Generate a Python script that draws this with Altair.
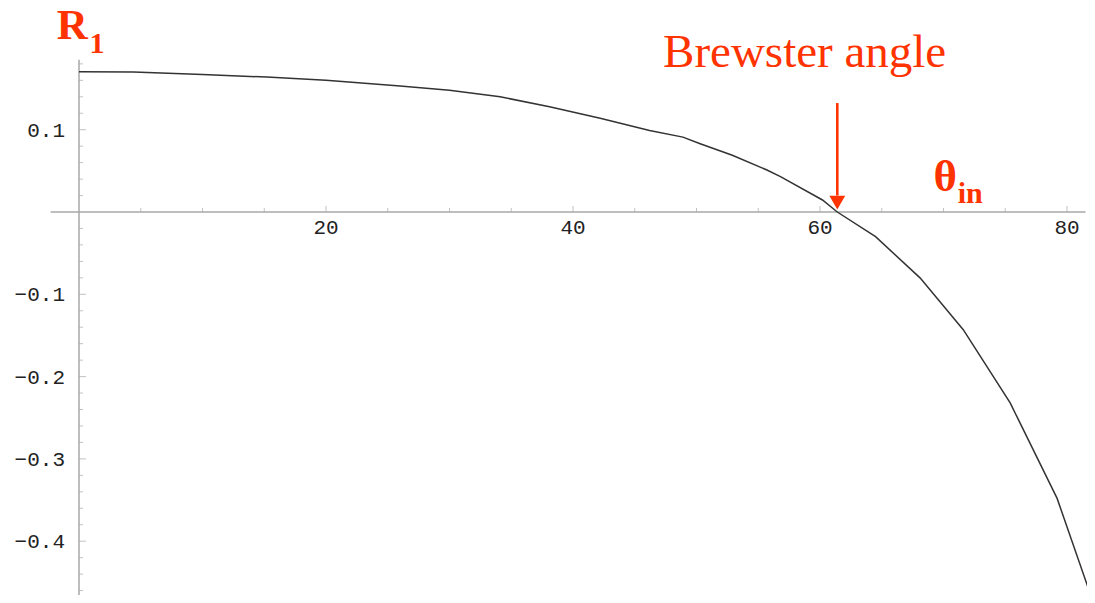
import altair as alt
import pandas as pd

# ---- data ----
theta = [0, 4.4, 10.0, 15.2, 20.0, 26.0, 30.0, 34.1, 38.1, 42.2, 46.2, 48.9, 50.3,
         52.9, 55.7, 56.8, 60.2, 61.4, 64.5, 68.1, 71.6, 75.4, 79.2, 82.0]
r1 = [0.1705, 0.170, 0.167, 0.164, 0.160, 0.153, 0.148, 0.140, 0.128, 0.114, 0.099,
      0.091, 0.083, 0.069, 0.051, 0.043, 0.0146, 0.0, -0.030, -0.080, -0.143, -0.232,
      -0.348, -0.469]

x_major = [20, 40, 60, 80]
x_major_labels = ["20", "40", "60", "80"]
x_minor = [5, 10, 15, 25, 30, 35, 45, 50, 55, 65, 70, 75]
y_major = [-0.4, -0.3, -0.2, -0.1, 0.1]
y_major_labels = ["\u22120.4", "\u22120.3", "\u22120.2", "\u22120.1", "0.1"]
y_minor = [-0.46, -0.44, -0.42, -0.38, -0.36, -0.34, -0.32, -0.28, -0.26, -0.24, -0.22,
           -0.18, -0.16, -0.14, -0.12, -0.08, -0.06, -0.04, -0.02, 0.02, 0.04, 0.06,
           0.08, 0.12, 0.14, 0.16, 0.18]

brewster = 61.4
x_axis_extent = [-2.3, 81.5]
y_axis_extent = [0.185, -0.47]

RED = "#ff3300"
AX = "#a8a8a8"

xs = alt.Scale(domain=[-5.75, 81.62], nice=False, zero=False)
ys = alt.Scale(domain=[-0.4654, 0.2479], nice=False, zero=False)


def X(f="x"):
    return alt.X(f"{f}:Q", scale=xs, axis=None)


def Y(f="y"):
    return alt.Y(f"{f}:Q", scale=ys, axis=None)


curve_df = pd.DataFrame({"x": theta, "y": r1})

# axes lines
xaxis = alt.Chart(pd.DataFrame({"x": [x_axis_extent[0]], "x2": [x_axis_extent[1]], "y": [0]})).mark_rule(
    color=AX, strokeWidth=1.5).encode(x=X(), x2="x2:Q", y=Y())
yaxis = alt.Chart(pd.DataFrame({"x": [0], "y": [y_axis_extent[0]], "y2": [y_axis_extent[1]]})).mark_rule(
    color=AX, strokeWidth=1.5).encode(x=X(), y=Y(), y2="y2:Q")

# ticks
xmaj = alt.Chart(pd.DataFrame({"x": x_major, "y": [0] * len(x_major)})).mark_tick(
    orient="vertical", size=6, yOffset=-3, color=AX, thickness=1).encode(x=X(), y=Y())
xmin = alt.Chart(pd.DataFrame({"x": x_minor, "y": [0] * len(x_minor)})).mark_tick(
    orient="vertical", size=4, yOffset=-2, color=AX, thickness=1).encode(x=X(), y=Y())
ymaj = alt.Chart(pd.DataFrame({"x": [0] * len(y_major), "y": y_major})).mark_tick(
    orient="horizontal", size=7, xOffset=3.5, color=AX, thickness=1).encode(x=X(), y=Y())
ymin = alt.Chart(pd.DataFrame({"x": [0] * len(y_minor), "y": y_minor})).mark_tick(
    orient="horizontal", size=4, xOffset=2, color=AX, thickness=1).encode(x=X(), y=Y())

# tick labels
xlab = alt.Chart(pd.DataFrame({"x": x_major, "y": [0] * len(x_major), "t": x_major_labels})).mark_text(
    font="Liberation Mono", fontSize=21, color="#222222", align="center", baseline="alphabetic", dy=22
).encode(x=X(), y=Y(), text="t:N")
ylab = alt.Chart(pd.DataFrame({"x": [0] * len(y_major), "y": y_major, "t": y_major_labels})).mark_text(
    font="Liberation Mono", fontSize=21, color="#222222", align="right", baseline="alphabetic", dx=-14, dy=7
).encode(x=X(), y=Y(), text="t:N")

# curve
curve = alt.Chart(curve_df).mark_line(color="#333333", strokeWidth=1.5, clip=False).encode(
    x=X(), y=Y(), order="x:Q")

# Brewster arrow
arrow_line = alt.Chart(pd.DataFrame({"x": [brewster], "y": [0.1324], "y2": [0.02]})).mark_rule(
    color=RED, strokeWidth=2.6).encode(x=X(), y=Y(), y2="y2:Q")
arrow_head = alt.Chart(pd.DataFrame({"x": [brewster], "y": [0.0115]})).mark_point(
    shape="triangle-down", size=250, filled=True, color=RED, opacity=1).encode(x=X(), y=Y())

# annotations (data coordinates)
ann_df = pd.DataFrame({
    "x": [47.29],
    "y": [0.1762],
    "t": ["Brewster angle"],
})
brew_text = alt.Chart(ann_df).mark_text(
    font="Liberation Serif", fontSize=47, color=RED, align="left", baseline="alphabetic"
).encode(x=X(), y=Y(), text="t:N")

r_text = alt.Chart(pd.DataFrame({"x": [-1.8], "y": [0.2105], "t": ["R"]})).mark_text(
    font="Liberation Serif", fontSize=43, fontWeight="bold", color=RED, align="left", baseline="alphabetic"
).encode(x=X(), y=Y(), text="t:N")
r_sub = alt.Chart(pd.DataFrame({"x": [0.85], "y": [0.1932], "t": ["1"]})).mark_text(
    font="Liberation Serif", fontSize=30, fontWeight="bold", color=RED, align="left", baseline="alphabetic"
).encode(x=X(), y=Y(), text="t:N")

th_text = alt.Chart(pd.DataFrame({"x": [69.2], "y": [0.0255], "t": ["\u03b8"]})).mark_text(
    font="Liberation Serif", fontSize=45, fontWeight="bold", color=RED, align="left", baseline="alphabetic"
).encode(x=X(), y=Y(), text="t:N")
th_sub = alt.Chart(pd.DataFrame({"x": [71.15], "y": [0.0109], "t": ["in"]})).mark_text(
    font="Liberation Serif", fontSize=30, fontWeight="bold", color=RED, align="left", baseline="alphabetic"
).encode(x=X(), y=Y(), text="t:N")

chart = alt.layer(
    xaxis, yaxis, xmin, xmaj, ymin, ymaj, xlab, ylab, curve,
    arrow_line, arrow_head, brew_text, r_text, r_sub, th_text, th_sub
).properties(
    width=1079, height=587, autosize=alt.AutoSizeParams(type="none"), padding=0,
    background="white"
).configure_view(stroke=None)

chart.save("out.html", embed_options={"renderer": "svg", "actions": False})
